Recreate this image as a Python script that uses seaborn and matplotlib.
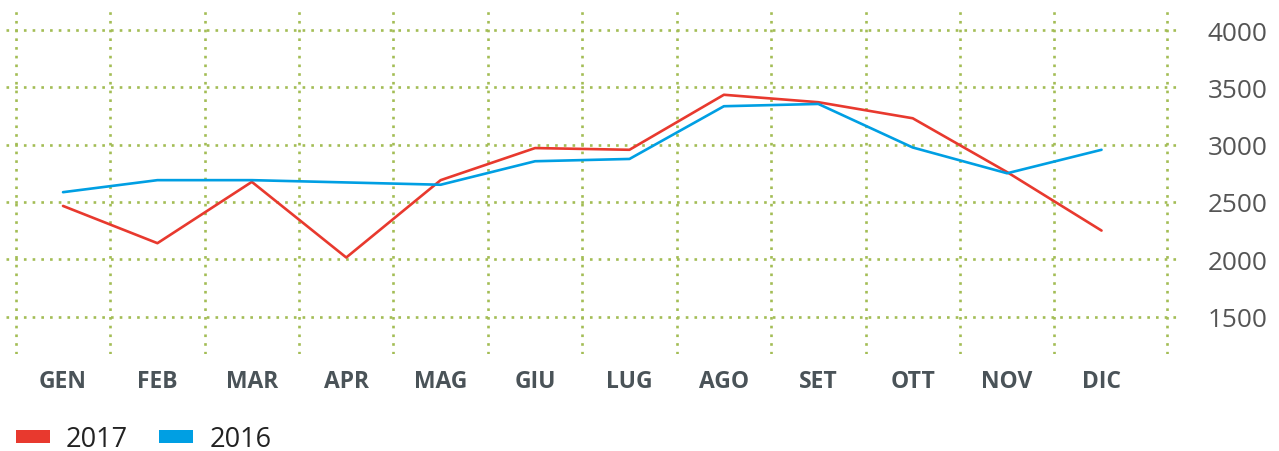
import pandas as pd
import seaborn as sns
import matplotlib.pyplot as plt
from matplotlib.patches import Patch

# Dati
mesi = ['GEN', 'FEB', 'MAR', 'APR', 'MAG', 'GIU', 'LUG', 'AGO', 'SET', 'OTT', 'NOV', 'DIC']
valori_2017 = [2465, 2140, 2675, 2015, 2690, 2970, 2955, 3435, 3370, 3230, 2760, 2250]
valori_2016 = [2585, 2690, 2690, 2670, 2650, 2855, 2875, 3335, 3355, 2975, 2750, 2955]
anni = ['2017', '2016']
y_ticks = [1500, 2000, 2500, 3000, 3500, 4000]

colori = {'2017': '#e8392e', '2016': '#009fe3'}
verde = '#a3bd55'

df = pd.DataFrame({
    'mese': mesi * 2,
    'x': list(range(len(mesi))) * 2,
    'valore': valori_2017 + valori_2016,
    'anno': ['2017'] * len(mesi) + ['2016'] * len(mesi),
})

sns.set_style('white')
plt.rcParams['font.family'] = ['Open Sans', 'DejaVu Sans']

W, H = 1279, 452
fig = plt.figure(figsize=(W / 100, H / 100), dpi=100)
ax = fig.add_axes([6 / W, 1 - 355 / H, (1178 - 6) / W, (355 - 12) / H])

sns.lineplot(data=df, x='x', y='valore', hue='anno', palette=colori,
             linewidth=1.9, ax=ax, legend=False, zorder=3)

ax.set_xlim(-0.604, 11.81)
ax.set_ylim(1173, 4166)

# griglia punteggiata
dot = (0, (1, 2.3))
for v in y_ticks:
    ax.axhline(v, color=verde, linewidth=1.9, linestyle=dot, zorder=1)
for xv in [k - 0.5 for k in range(len(mesi))] + [11.69]:
    ax.axvline(xv, color=verde, linewidth=1.9, linestyle=dot, zorder=1)

for s in ax.spines.values():
    s.set_visible(False)

ax.set_xticks(range(len(mesi)))
ax.set_xticklabels(mesi, fontsize=16.5, fontweight='bold', color='#4a5358')
ax.tick_params(axis='x', length=0, pad=10.5)

ax.yaxis.tick_right()
ax.set_yticks(y_ticks)
ax.set_yticklabels([str(v) for v in y_ticks], fontsize=18.8, color='#555555')
ax.tick_params(axis='y', length=0, pad=64.5)
for lab in ax.get_yticklabels():
    lab.set_horizontalalignment('right')

ax.set_xlabel('')
ax.set_ylabel('')

handles = [Patch(facecolor=colori[a], edgecolor='none', label=a) for a in anni]
fig.legend(handles=handles, loc='center left', bbox_to_anchor=(16 / W, 1 - 440 / H),
           ncol=2, frameon=False, fontsize=19.5, handlelength=1.25, handleheight=0.37,
           handletextpad=0.6, columnspacing=1.15, borderpad=0, borderaxespad=0,
           labelcolor='#222222')

fig.savefig('out.png', dpi=100)
